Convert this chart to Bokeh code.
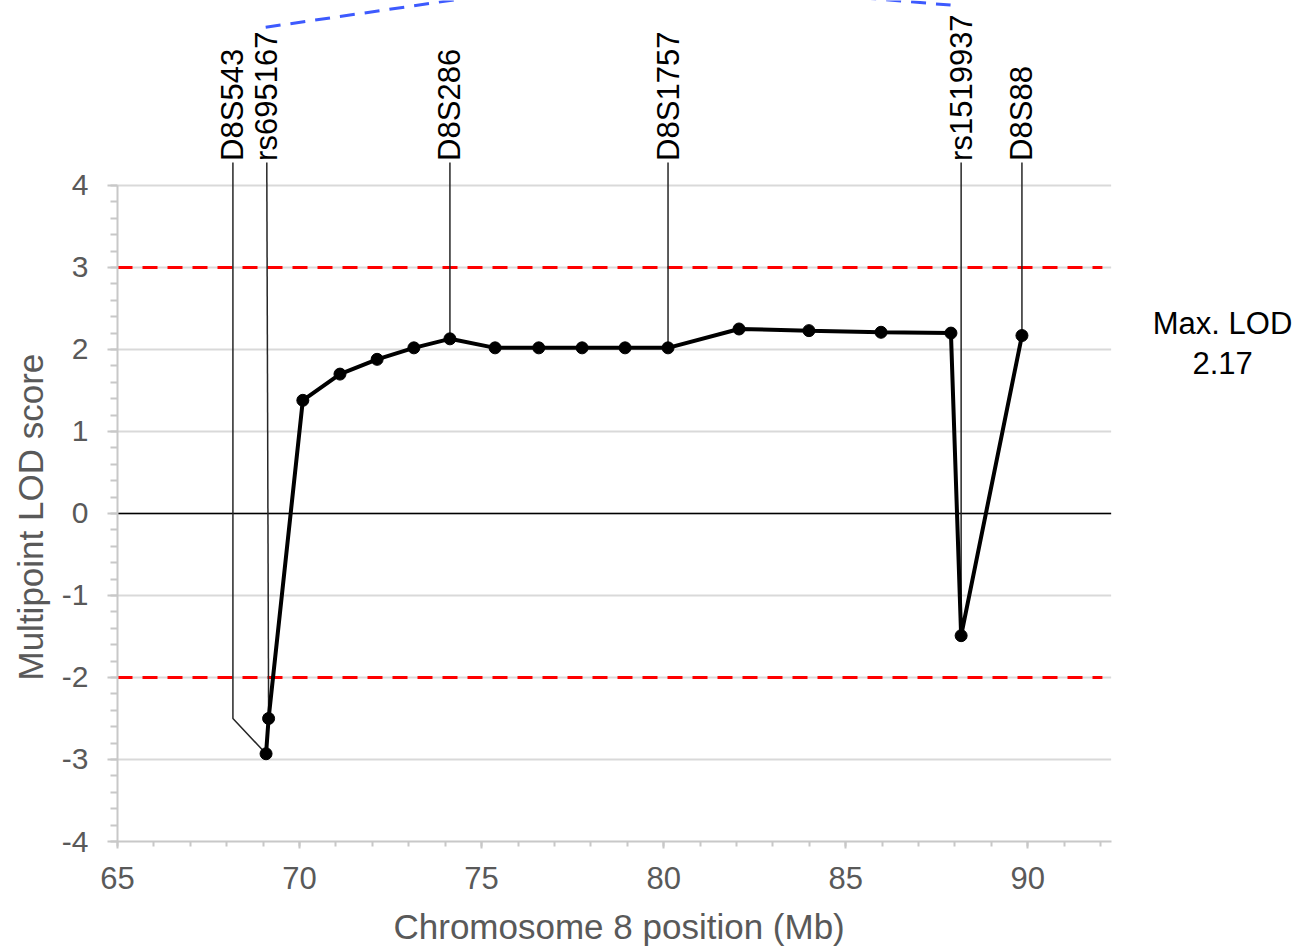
from bokeh.plotting import figure
from bokeh.models import Range1d, SingleIntervalTicker, Title
from bokeh.core.properties import value
from bokeh.embed import file_html
from bokeh.resources import INLINE

# ---- data ----
positions = [69.08, 69.15, 70.09, 71.11, 72.13, 73.14, 74.13, 75.37, 76.57,
             77.76, 78.94, 80.12, 82.07, 83.99, 85.97, 87.89, 88.17, 89.84]
lod = [-2.93, -2.50, 1.38, 1.70, 1.88, 2.02, 2.13, 2.02, 2.02,
       2.02, 2.02, 2.02, 2.25, 2.23, 2.21, 2.20, -1.49, 2.17]

markers = ["D8S543", "rs695167", "D8S286", "D8S1757", "rs1519937", "D8S88"]
marker_pos = [69.08, 69.15, 74.13, 80.12, 88.17, 89.84]
marker_lod = [-2.93, -2.50, 2.13, 2.02, -1.49, 2.17]
label_x = [68.17, 69.10, 74.13, 80.12, 88.17, 89.84]
elbow_y = [-2.50, None, None, None, None, None]

thresholds = [3, -2]
y_ticks = [-4, -3, -2, -1, 0, 1, 2, 3, 4]
x_ticks = [65, 70, 75, 80, 85, 90]
max_lod_text = ["Max. LOD", "2.17"]

# bracket line (blue dashed) linking rs695167 and rs1519937 labels
bracket_x = [69.07, 78.55, 87.88]
bracket_y = [5.93, 6.54, 6.20]

X_MIN, X_AXIS_END = 65, 92.29
LABEL_Y = 4.30

FONT = "Liberation Sans"
GRAY = "#595959"
AXIS_GRAY = "#c8c8c8"

p = figure(width=1314, height=951,
           x_range=Range1d(65, 97.875), y_range=Range1d(-4, 6.256),
           output_backend="svg", toolbar_location=None,
           min_border_left=117, min_border_right=0,
           min_border_top=0, min_border_bottom=110)
p.outline_line_color = None
p.xgrid.visible = False
p.ygrid.visible = False
p.background_fill_color = "white"
p.border_fill_color = "white"

# axes
xa = p.xaxis[0]
xa.ticker = SingleIntervalTicker(interval=5, num_minor_ticks=5)
xa.bounds = (X_MIN, X_AXIS_END)
xa.major_label_overrides = {t: str(t) for t in x_ticks}
ya = p.yaxis[0]
ya.ticker = SingleIntervalTicker(interval=1, num_minor_ticks=5)
ya.bounds = (-4, 4)
ya.major_label_overrides = {t: str(t) for t in y_ticks}
for ax in (xa, ya):
    ax.axis_line_color = AXIS_GRAY
    ax.axis_line_width = 2
    ax.major_tick_line_color = AXIS_GRAY
    ax.major_tick_line_width = 2
    ax.minor_tick_line_color = AXIS_GRAY
    ax.minor_tick_line_width = 2
    ax.major_tick_in = 0
    ax.minor_tick_in = 0
    ax.major_label_text_font = FONT
    ax.major_label_text_color = GRAY
xa.major_label_text_font_size = "31px"
ya.major_label_text_font_size = "30px"
xa.major_tick_out = 7
xa.minor_tick_out = 5
ya.major_tick_out = 10
ya.minor_tick_out = 7
ya.major_label_standoff = 19
xa.major_label_standoff = 18
# small spacer below the x tick labels
xa.axis_label = " "
xa.axis_label_text_font_size = "1px"
xa.axis_label_standoff = 4

# axis titles as side titles so they can be centred on the axis bounds
ytitle = Title(text="Multipoint LOD score", align="left", offset=161,
               vertical_align="middle", standoff=16,
               text_font=FONT, text_font_size="35px",
               text_font_style="normal", text_color=GRAY)
p.add_layout(ytitle, "left")
xtitle = Title(text="Chromosome 8 position (Mb)", align="left", offset=276,
               vertical_align="bottom", standoff=10,
               text_font=FONT, text_font_size="35px",
               text_font_style="normal", text_color=GRAY)
p.add_layout(xtitle, "below")

# horizontal gridlines
grid_y = [t for t in y_ticks if t != -4]
p.segment(x0=[X_MIN] * len(grid_y), x1=[X_AXIS_END] * len(grid_y),
          y0=grid_y, y1=grid_y, line_color="#d9d9d9", line_width=2)

# zero line
p.segment(x0=[X_MIN], x1=[X_AXIS_END], y0=[0], y1=[0],
          line_color="black", line_width=1.5)

# threshold lines
p.segment(x0=[X_MIN] * len(thresholds), x1=[92.05] * len(thresholds),
          y0=thresholds, y1=thresholds, line_color="#ff0000",
          line_width=3, line_dash="15 10")

# leader lines from labels to markers
xs, ys = [], []
for lx, mx, my, ey in zip(label_x, marker_pos, marker_lod, elbow_y):
    if ey is None:
        xs.append([lx, mx])
        ys.append([LABEL_Y - 0.02, my])
    else:
        xs.append([lx, lx, mx])
        ys.append([LABEL_Y - 0.02, ey, my])
p.multi_line(xs=xs, ys=ys, line_color="#262626", line_width=1.5)

# LOD curve
p.line(positions, lod, line_color="black", line_width=4)
p.scatter(positions, lod, size=12, fill_color="black", line_color="black")

# marker labels (rotated)
p.text(x=label_x, y=[LABEL_Y] * len(markers), text=markers,
       angle=1.5708, text_align="left", text_baseline="middle",
       text_font=value(FONT), text_font_size="31px", text_color="black")

# blue dashed bracket
p.line(bracket_x, bracket_y, line_color="#3d5afe", line_width=3,
       line_dash="15 10")

# Max LOD annotation
p.text(x=[95.35, 95.35], y=[2.323, 1.835], text=max_lod_text,
       text_align="center", text_baseline="alphabetic",
       text_font=value(FONT), text_font_size="31px", text_color="black")

open("out.html", "w").write(file_html(p, INLINE))
